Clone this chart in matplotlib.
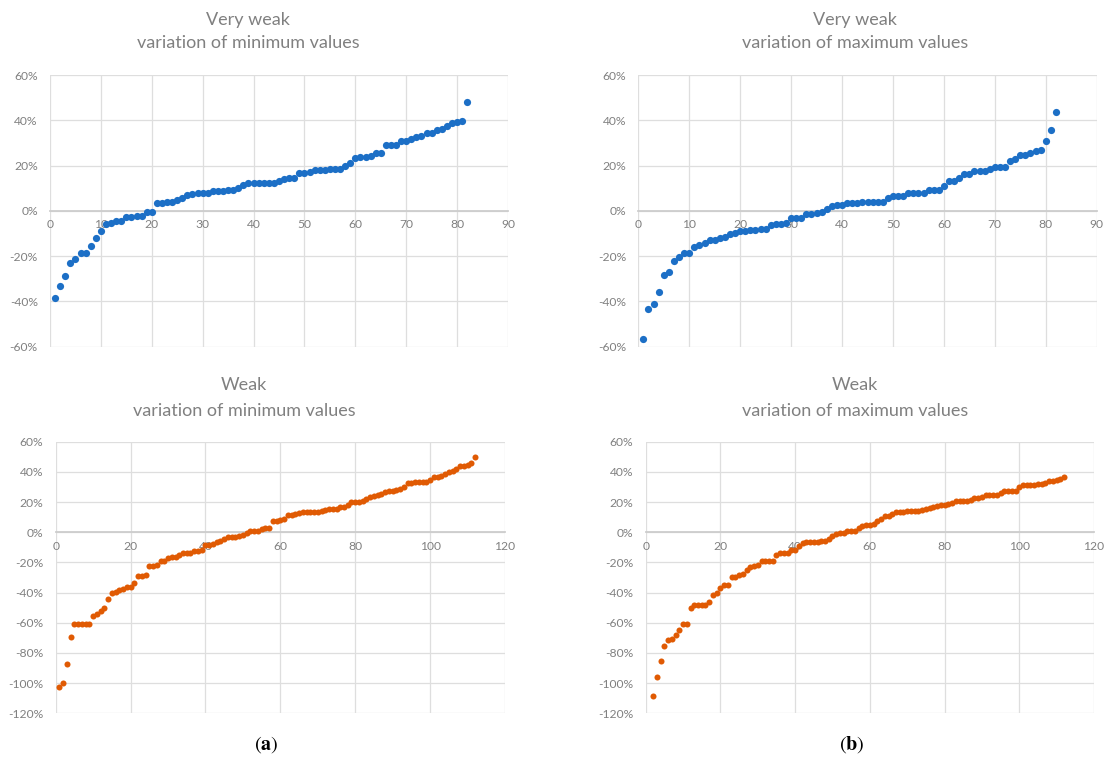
import numpy as np
import matplotlib
matplotlib.use("Agg")
import matplotlib.pyplot as plt
from matplotlib.ticker import FuncFormatter, MultipleLocator

# ---- data (variation in %, sorted ascending) ----
very_weak_min = [
    -38.3, -33.2, -28.6, -23.2, -21.4, -18.7, -18.7, -15.5, -12.2, -8.8,
    -5.6, -5.5, -4.4, -4.4, -2.9, -2.9, -2.2, -2.2, -0.3, -0.3,
    3.4, 3.4, 4.1, 4.1, 4.9, 5.8, 6.9, 7.5, 8.0, 8.0,
    8.0, 8.7, 8.7, 8.7, 9.4, 9.4, 10.3, 11.4, 12.1, 12.1,
    12.1, 12.5, 12.5, 12.5, 13.3, 14.0, 14.6, 14.6, 16.5, 16.5,
    17.3, 18.0, 18.0, 18.0, 18.6, 18.6, 18.6, 19.9, 21.1, 23.2,
    23.7, 23.7, 24.3, 25.7, 25.7, 29.1, 29.1, 29.1, 31.0, 31.0,
    31.7, 32.4, 32.9, 34.4, 34.4, 35.7, 36.1, 37.6, 38.8, 39.4,
    39.8, 47.9,
]
very_weak_max = [
    -56.5, -43.5, -41.0, -35.7, -28.5, -27.0, -22.0, -20.6, -18.6, -18.6,
    -15.9, -15.2, -14.0, -13.0, -13.0, -12.2, -11.5, -10.3, -9.6, -9.0,
    -9.0, -8.6, -8.6, -7.8, -7.8, -6.3, -5.6, -5.6, -5.2, -3.1,
    -3.1, -3.1, -1.6, -1.6, -1.0, -0.4, 1.0, 2.2, 2.8, 2.8,
    3.5, 3.5, 3.5, 4.0, 4.0, 4.0, 4.0, 4.0, 5.5, 6.6,
    6.6, 6.6, 7.8, 7.8, 7.8, 7.8, 9.3, 9.3, 9.3, 11.1,
    13.1, 13.1, 14.3, 16.1, 16.1, 17.7, 17.7, 17.7, 18.4, 19.2,
    19.2, 19.2, 22.1, 22.9, 24.8, 24.8, 25.5, 26.3, 27.0, 30.8,
    35.8, 43.8,
]
weak_min = [
    -102.6, -99.8, -87.2, -69.5, -60.7, -60.7, -60.7, -60.7, -60.7, -55.6,
    -54.5, -52.3, -50.1, -44.2, -40.2, -39.5, -38.6, -37.3, -36.2, -36.2,
    -33.6, -29.1, -29.1, -28.5, -22.5, -22.5, -21.4, -19.2, -19.2, -17.4,
    -16.6, -16.6, -14.8, -13.7, -13.7, -13.7, -12.6, -12.6, -11.5, -8.6,
    -8.2, -7.7, -6.6, -5.5, -4.2, -3.3, -3.3, -3.3, -2.6, -2.0,
    -0.4, 1.1, 1.1, 1.1, 2.0, 2.9, 2.9, 7.3, 7.7, 8.0,
    9.1, 11.3, 11.7, 12.4, 12.8, 13.2, 13.2, 13.2, 13.2, 13.2,
    13.9, 15.0, 15.7, 15.7, 15.7, 16.6, 16.6, 17.9, 19.9, 19.9,
    19.9, 21.0, 22.1, 23.2, 23.8, 24.9, 25.4, 26.5, 27.6, 27.6,
    28.3, 28.9, 29.8, 32.7, 32.7, 33.3, 33.3, 33.3, 33.3, 34.9,
    36.4, 36.6, 37.5, 38.6, 40.0, 40.4, 41.9, 43.7, 43.7, 44.8,
    45.9, 49.7,
]
weak_max = [
    -108.8, -96.0, -85.4, -75.5, -71.7, -70.6, -67.8, -64.9, -60.7, -60.7,
    -50.1, -48.3, -47.9, -47.9, -47.9, -46.1, -41.3, -40.2, -36.9, -34.7,
    -34.7, -29.6, -29.6, -28.5, -27.4, -24.7, -23.2, -22.1, -21.4, -19.2,
    -19.2, -19.2, -19.2, -14.8, -13.7, -13.7, -13.7, -11.5, -11.5, -9.3,
    -7.1, -6.6, -6.6, -6.6, -6.6, -5.5, -5.5, -4.2, -2.6, -1.1,
    -0.4, -0.4, 1.1, 1.1, 1.1, 2.9, 4.4, 4.6, 4.6, 5.7,
    7.3, 8.8, 10.6, 11.0, 12.4, 13.2, 13.2, 13.2, 13.9, 13.9,
    14.3, 14.3, 15.0, 15.7, 16.1, 16.8, 17.2, 17.9, 18.3, 18.8,
    19.4, 20.5, 20.5, 20.5, 21.0, 21.6, 22.7, 22.7, 23.2, 24.5,
    24.5, 24.5, 24.9, 26.0, 27.2, 27.2, 27.2, 27.6, 30.0, 31.6,
    31.6, 31.6, 31.6, 32.0, 32.0, 32.7, 33.8, 34.2, 34.9, 35.3,
    36.4,
]

# first sample index of each series
very_weak_min_start = 1
very_weak_max_start = 1
weak_min_start = 1
weak_max_start = 2

titles = [
    ("Very weak", "variation of minimum values"),
    ("Very weak", "variation of maximum values"),
    ("Weak", "variation of minimum values"),
    ("Weak", "variation of maximum values"),
]
captions = ["a", "b"]

BLUE = "#1c6fc6"
ORANGE = "#e05a03"
GRID = "#dedede"
AXISLINE = "#cdcdcd"
TEXT = "#808080"

W, H = 1109, 762
fig = plt.figure(figsize=(W / 100, H / 100), dpi=100)
plt.rcParams["font.family"] = ["Lato", "DejaVu Sans"]


def px_axes(left, top, right, bottom):
    return fig.add_axes([left / W, 1 - bottom / H, (right - left) / W, (bottom - top) / H])


panels = [
    dict(series=very_weak_min, start=very_weak_min_start, color=BLUE, ms=27,
         box=(50, 75, 508, 346.7), xlim=(0, 90), xstep=10, ylim=(-60, 60),
         title_xy=(248, 20, 43)),
    dict(series=very_weak_max, start=very_weak_max_start, color=BLUE, ms=27,
         box=(638.3, 75, 1096.7, 346.7), xlim=(0, 90), xstep=10, ylim=(-60, 60),
         title_xy=(855, 20, 43)),
    dict(series=weak_min, start=weak_min_start, color=ORANGE, ms=19,
         box=(55.7, 441.7, 505, 713.3), xlim=(0, 120), xstep=20, ylim=(-120, 60),
         title_xy=(244, 385, 411)),
    dict(series=weak_max, start=weak_max_start, color=ORANGE, ms=19,
         box=(645.7, 441.7, 1094, 713.3), xlim=(0, 120), xstep=20, ylim=(-120, 60),
         title_xy=(855, 385, 411)),
]

pct = FuncFormatter(lambda v, _: f"{v:.0f}%")
num = FuncFormatter(lambda v, _: f"{v:.0f}")

for p, (t1, t2) in zip(panels, titles):
    ax = px_axes(*p["box"])
    y = np.asarray(p["series"])
    x = np.arange(p["start"], p["start"] + len(y))
    ax.scatter(x, y, s=p["ms"], color=p["color"], linewidths=0, zorder=3, clip_on=False)

    ax.set_xlim(*p["xlim"])
    ax.set_ylim(*p["ylim"])
    ax.xaxis.set_major_locator(MultipleLocator(p["xstep"]))
    ax.yaxis.set_major_locator(MultipleLocator(20))
    ax.xaxis.set_major_formatter(num)
    ax.yaxis.set_major_formatter(pct)

    ax.set_axisbelow(True)
    ax.grid(True, color=GRID, linewidth=0.9)
    for side in ("top", "right", "left"):
        ax.spines[side].set_visible(False)
    ax.spines["bottom"].set_position(("data", 0))
    ax.spines["bottom"].set_color(AXISLINE)
    ax.spines["bottom"].set_linewidth(1.3)
    ax.tick_params(axis="both", length=0, labelsize=8.7, labelcolor=TEXT)
    ax.tick_params(axis="y", pad=8.8)
    ax.tick_params(axis="x", pad=6.2)

    tx, ty1, ty2 = p["title_xy"]
    fig.text(tx / W, 1 - ty1 / H, t1, ha="center", va="center", fontsize=13, color=TEXT)
    fig.text(tx / W, 1 - ty2 / H, t2, ha="center", va="center", fontsize=13, color=TEXT)

plt.rcParams["mathtext.fontset"] = "stix"
for cx, c in zip((266, 852), captions):
    fig.text(cx / W, 1 - 745 / H, "(" + r"$\mathbf{" + c + "}$" + ")", ha="center", va="center",
             fontsize=14.5, family="STIXGeneral", color="black")

fig.savefig("out.png", dpi=100, facecolor="white")
